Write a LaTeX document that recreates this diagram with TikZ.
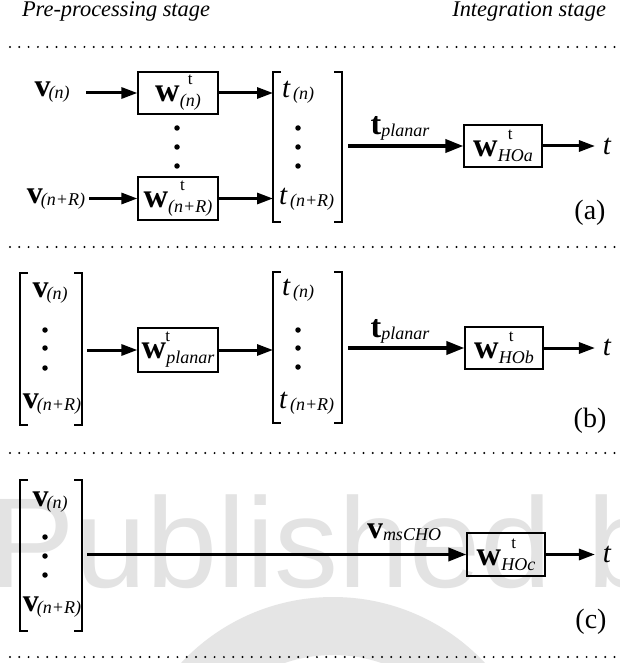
\documentclass[tikz,border=0pt]{standalone}
\usepackage{fontspec}
\setmainfont{Liberation Serif}
\newfontfamily\wmfont{Liberation Sans}
\usetikzlibrary{arrows.meta}
\newcommand{\bsz}{\fontsize{32}{32}\selectfont}
\newcommand{\wsz}{\fontsize{34}{34}\selectfont}
\newcommand{\ssz}{\fontsize{18}{18}\selectfont}
\newcommand{\tsz}{\fontsize{17}{17}\selectfont}
\newcommand{\vvec}[1]{{\bsz\bfseries v}\kern-2pt\raisebox{-2pt}{\ssz\itshape #1}}
\newcommand{\wvec}[2][8pt]{{\wsz\bfseries w}\rlap{\kern#1\raisebox{17pt}{\tsz t}}\raisebox{-5pt}{\ssz\itshape #2}}
\newcommand{\tel}[1]{{\fontsize{29}{29}\selectfont\itshape t}\kern3pt\raisebox{-2pt}{\ssz\itshape #1}}
\newcommand{\tout}{{\fontsize{29}{29}\selectfont\itshape t}}
\newcommand{\drawbrackets}[1]{%
  \draw[brk] ([xshift=8pt]#1.north west) -- (#1.north west) -- (#1.south west) -- ([xshift=8pt]#1.south west);
  \draw[brk] ([xshift=-8pt]#1.north east) -- (#1.north east) -- (#1.south east) -- ([xshift=-8pt]#1.south east);}
\tikzset{
  box/.style={draw, line width=1.2pt, minimum width=80pt, minimum height=42pt, inner sep=0pt},
  hobox/.style={box, minimum width=78pt},
  txt/.style={inner sep=0pt, outer sep=0pt},
  col/.style={inner sep=0pt, outer sep=0pt},
  arr/.style={line width=3pt, -{Triangle[length=16pt,width=11pt]}},
  bigarr/.style={line width=3.6pt, -{Triangle[length=18pt,width=13pt]}},
  brk/.style={line width=2.2pt},
  sepline/.style={line width=2.2pt, line cap=round, dash pattern=on 0pt off 9.3pt},
  dotmark/.style={circle, fill, inner sep=0pt, minimum size=5.5pt},
}
\begin{document}
\begin{tikzpicture}[x=1pt,y=-1pt]
\useasboundingbox (0,0) rectangle (619,663);
\clip (0,0) rectangle (619,663);
\fill[white] (0,0) rectangle (619,663);
% watermark
\fill[black!10, even odd rule] (333,805) circle (208) (333,805) circle (150);
\node[txt, anchor=base west, text=black!11, font=\wmfont\fontsize{128}{128}\selectfont] (wm) at (-10,587) {Published b};

% titles
\node[txt, anchor=base west, font=\fontsize{22.4}{22.4}\selectfont\itshape] (pre) at (22,17) {Pre-processing stage};
\node[txt, anchor=base east, font=\fontsize{22.4}{22.4}\selectfont\itshape] (int) at (606,17) {Integration stage};

% separators
\foreach \yy in {47,247,453,657} \draw[sepline] (10,\yy) -- (615,\yy);

% ---------- panel (a)
\node[txt] (v1) at (52,92) {\vvec{(n)}};
\node[txt] (v2) at (56,199) {\vvec{(n+R)}};
\node[box] (b1) at (178,93) {\wvec{(n)}};
\node[box, minimum height=43pt] (b2) at (178,198.5) {\wvec[12pt]{(n+R)}};
\foreach \yy in {128,147,166} \node[dotmark] at (177,\yy) {};
\node[col, minimum width=69pt, minimum height=150pt] (ta) at (307.5,147) {};
\drawbrackets{ta}
\node[txt, anchor=west] (t1) at (282,92) {\tel{(n)}};
\node[txt, anchor=west] (t2) at (279,199) {\tel{(n+R)}};
\foreach \yy in {128,147,166} \node[dotmark] at (298,\yy) {};
\node[hobox] (hoa) at (503,146) {\wvec[10pt]{HOa}};
\node[txt] (pa) at (400,128) {{\bsz\bfseries t}\raisebox{-2pt}{\ssz\itshape planar}};
\node[txt] (touta) at (607,146) {\tout};
\node[txt, font=\fontsize{28}{28}\selectfont] (la) at (590,213) {(a)};
\draw[arr, shorten <=17pt] (v1.east |- b1.west) -- (b1.west);
\draw[arr, shorten <=4pt] (v2.east |- b2.west) -- (b2.west);
\draw[arr] (b1.east) -- (b1.east -| ta.west);
\draw[arr] (b2.east) -- (b2.east -| ta.west);
\draw[bigarr, shorten <=6pt] (ta.east |- hoa.west) -- (hoa.west);
\draw[arr, shorten >=8pt] (hoa.east) -- (hoa.east -| touta.west);

% ---------- panel (b)
\node[col, minimum width=62pt, minimum height=152pt] (vb) at (51,349) {};
\drawbrackets{vb}
\node[txt] (vbn) at (50,293) {\vvec{(n)}};
\node[txt] (vbr) at (52,404) {\vvec{(n+R)}};
\foreach \yy in {330,348,368} \node[dotmark] at (45,\yy) {};
\node[box, minimum height=44pt] (bp) at (178,350) {\wvec[-1pt]{planar}};
\node[col, minimum width=69pt, minimum height=151pt] (tb) at (307.5,347.5) {};
\drawbrackets{tb}
\node[txt, anchor=west] (tbn) at (282,290) {\tel{(n)}};
\node[txt, anchor=west] (tbr) at (279,403) {\tel{(n+R)}};
\foreach \yy in {330,348,367} \node[dotmark] at (298,\yy) {};
\node[hobox] (hob) at (504,348) {\wvec[10pt]{HOb}};
\node[txt] (pb) at (400,331) {{\bsz\bfseries t}\raisebox{-2pt}{\ssz\itshape planar}};
\node[txt] (toutb) at (607,347) {\tout};
\node[txt, font=\fontsize{28}{28}\selectfont] (lb) at (590,421) {(b)};
\draw[arr, shorten <=5pt] (vb.east |- bp.west) -- (bp.west);
\draw[arr] (bp.east) -- (bp.east -| tb.west);
\draw[bigarr, shorten <=6pt] (tb.east |- hob.west) -- (hob.west);
\draw[arr, shorten >=8pt] (hob.east) -- (hob.east -| toutb.west);

% ---------- panel (c)
\node[col, minimum width=62pt, minimum height=151pt] (vc) at (51,555.5) {};
\drawbrackets{vc}
\node[txt] (vcn) at (50,502) {\vvec{(n)}};
\node[txt] (vcr) at (52,607) {\vvec{(n+R)}};
\foreach \yy in {537,556,575} \node[dotmark] at (45,\yy) {};
\node[hobox, minimum height=43pt] (hoc) at (506,554.5) {\wvec[10pt]{HOc}};
\node[txt] (pc) at (404,532) {{\bsz\bfseries v}\raisebox{-2pt}{\ssz\itshape msCHO}};
\node[txt] (toutc) at (607,554) {\tout};
\node[txt, font=\fontsize{28}{28}\selectfont] (lc) at (591,622) {(c)};
\draw[bigarr, shorten <=5pt] (vc.east |- hoc.west) -- (hoc.west);
\draw[arr, shorten >=8pt] (hoc.east) -- (hoc.east -| toutc.west);
\end{tikzpicture}
\end{document}
